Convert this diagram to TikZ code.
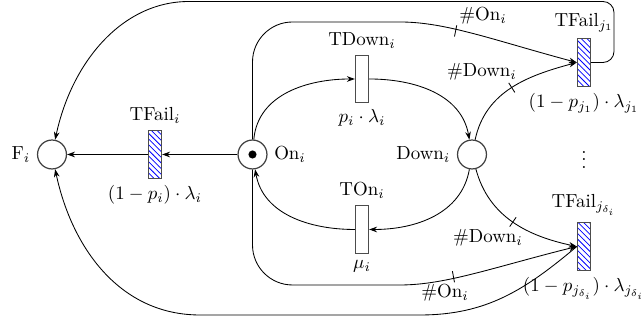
\documentclass[tikz,border=0pt]{standalone}
\usetikzlibrary{arrows.meta,patterns,calc}
\begin{document}
\begin{tikzpicture}[x=0.529pt,y=0.529pt,
  >={Stealth[length=4.2pt,width=3pt]},
  arc/.style={->,line width=0.45pt},
  place/.style={circle,draw=black!75,line width=0.65pt,minimum size=15.3pt,inner sep=0pt},
  trans/.style={rectangle,draw=black!70,line width=0.6pt,minimum width=7pt,minimum height=25pt,inner sep=0pt,fill=white},
  failtrans/.style={trans,pattern=north west lines,pattern color=blue},
  arctick/.style={draw,line width=0.45pt,minimum width=0pt,minimum height=6pt,inner sep=0pt,sloped,shape=rectangle},
  token/.style={circle,fill=black,inner sep=0pt,minimum size=4.3pt}
]
\useasboundingbox (0,0) rectangle (641,325);

% places
\node[place,label={left:F$_i$}] (F) at (52,170.5) {};
\node[place,label={right:On$_i$}] (On) at (252.5,170.5) {};
\node[token] (tok) at (On.center) {};
\node[place,label={left:Down$_i$}] (Down) at (472,170.5) {};

% transitions
\node[failtrans,label={above:TFail$_i$},label={below:$(1-p_i)\cdot\lambda_i$}] (TFi) at (155,170.5) {};
\node[trans,label={above:TDown$_i$},label={below:$p_i\cdot\lambda_i$}] (TDown) at (362,246) {};
\node[trans,label={above:TOn$_i$},label={below:$\mu_i$}] (TOn) at (362,95.5) {};
\node[failtrans,label={above:TFail$_{j_1}$},label={below:$(1-p_{j_1})\cdot\lambda_{j_1}$}] (TF1) at (584,262.5) {};
\node[failtrans,label={above:TFail$_{j_{\delta_i}}$},label={below:$(1-p_{j_{\delta_i}})\cdot\lambda_{j_{\delta_i}}$}] (TFd) at (584,78.5) {};
\node (dots) at (584,171) {$\vdots$};

% arc labels
\node (lOnTop) at (483,309) {\#On$_i$};
\node (lDownTop) at (482,253) {\#Down$_i$};
\node (lDownBot) at (488,87) {\#Down$_i$};
\node (lOnBot) at (445,32) {\#On$_i$};

% main cycle
\draw[arc] (On) -- (TFi);
\draw[arc] (TFi) -- (F);
\draw[arc] (On) to[out=85,in=180] (TDown.west);
\draw[arc] (TDown.east) to[out=0,in=100] (Down);
\draw[arc] (Down) to[out=-100,in=0] (TOn.east);
\draw[arc] (TOn.west) to[out=180,in=-80] (On);

% inhibitor-like counted arcs
\draw[arc] (Down) to[out=78,in=195] node[arctick,pos=0.5]{} (TF1.west);
\draw[arc] (Down) to[out=-75,in=168] node[arctick,pos=0.5]{} (TFd.west);
\draw[arc] (On.north) [rounded corners=40*0.529pt] |- (360,303) [sharp corners]
   to[out=0,in=165] node[arctick,pos=0.43]{} (TF1.west);
\draw[arc] (On.south) [rounded corners=40*0.529pt] |- (360,40) [sharp corners]
   to[out=0,in=194] node[arctick,pos=0.42]{} (TFd.west);

% outputs of the other failure transitions
\draw[arc] (TF1.east) [rounded corners=11*0.529pt] -- (614,262.5) -- (614,323.5) -- (200,323.5) [sharp corners]
   to[out=180,in=78] (F);
\draw[arc] (TFd.west) to[out=220,in=0] (420,10) -- (200,10) to[out=180,in=-78] (F);
\end{tikzpicture}
\end{document}
